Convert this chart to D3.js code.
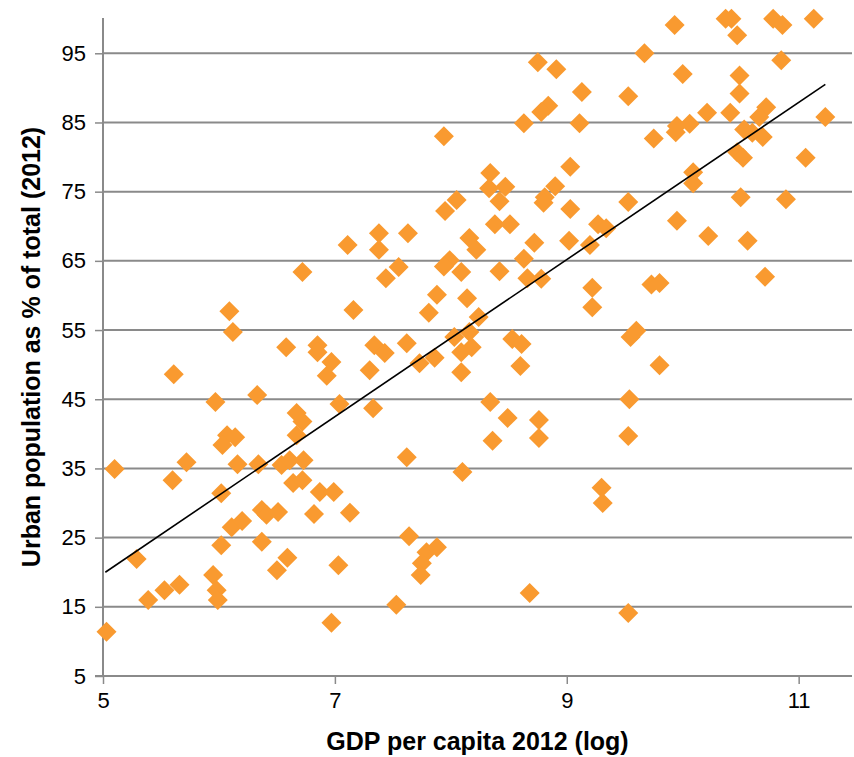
<!DOCTYPE html>
<html>
<head>
<meta charset="utf-8">
<script src="https://cdn.jsdelivr.net/npm/d3@7"></script>
<style>
  body { margin: 0; background: #fff; }
  text { font-family: "Liberation Sans", Arial, sans-serif; }
</style>
</head>
<body>
<svg id="chart" width="854" height="757"></svg>
<script>
// ---------------- data ----------------
var gdpLog = [
  5.03, 5.10, 5.29, 5.39, 5.53, 5.61, 5.60, 5.66, 5.72, 5.95,
  5.98, 5.99, 6.02, 6.02, 6.16, 6.11, 6.20, 6.34, 6.37, 6.37,
  6.41, 6.51, 6.50, 6.59, 6.54, 6.61, 6.64, 6.73, 6.72, 6.87,
  6.99, 6.82, 7.03, 6.97, 7.13, 7.11, 6.72, 6.09, 6.12, 6.58,
  6.85, 6.85, 6.97, 6.93, 6.33, 5.97, 7.04, 6.67, 6.72, 6.67,
  6.07, 6.14, 6.03, 7.16,
  7.38, 7.63, 7.38, 7.55, 7.44, 7.88, 7.81, 8.14, 7.99, 7.94,
  8.09, 8.16, 8.22, 8.42, 8.63, 8.72, 9.02, 9.20, 8.66, 8.78,
  9.22, 9.22, 8.24, 8.03, 8.16, 8.18, 8.09, 7.34, 7.43, 7.62,
  7.73, 7.86, 7.30, 8.09, 8.53, 8.61, 8.60, 7.33, 8.34, 8.49,
  8.76, 8.36, 8.76, 7.62, 8.10, 7.64, 7.79, 7.88, 7.75, 7.74,
  7.53, 8.68, 9.30, 9.31, 9.53,
  10.22, 10.56, 9.73, 9.80, 10.71, 9.55, 9.60, 9.80, 9.54, 9.53,
  9.93, 10.37, 10.42, 10.47, 10.78, 10.86, 11.13, 9.67, 10.85, 10.00,
  10.49, 10.49, 9.53, 10.21, 10.41, 10.72, 10.66, 11.23, 9.95, 10.06,
  9.94, 9.75, 10.53, 10.60, 10.69, 10.47, 10.52, 11.06, 10.09, 10.09,
  9.53, 9.95, 10.50, 10.89, 9.27, 9.34,
  8.75, 8.91, 9.13, 8.84, 8.78, 8.63, 9.11, 7.94, 9.03, 8.34,
  8.33, 8.47, 8.42, 8.90, 8.81, 8.80, 9.03, 7.95, 8.05, 8.38,
  8.51
];
var urbanPct = [
  11.4, 34.9, 21.9, 16.0, 17.4, 48.6, 33.3, 18.2, 35.9, 19.6,
  17.4, 16.0, 23.9, 31.4, 35.6, 26.5, 27.4, 35.6, 24.4, 29.0,
  28.3, 28.7, 20.3, 22.1, 35.5, 36.2, 32.9, 36.2, 33.3, 31.6,
  31.6, 28.4, 21.0, 12.7, 28.6, 67.3, 63.4, 57.7, 54.7, 52.5,
  52.8, 51.8, 50.4, 48.4, 45.6, 44.6, 44.3, 43.0, 41.8, 39.8,
  39.8, 39.5, 38.4, 57.9,
  69.0, 69.0, 66.6, 64.1, 62.5, 60.1, 57.5, 59.6, 65.1, 64.2,
  63.4, 68.3, 66.6, 63.5, 65.3, 67.6, 67.9, 67.3, 62.5, 62.4,
  61.1, 58.3, 56.9, 54.0, 54.7, 52.5, 51.8, 52.8, 51.7, 53.1,
  50.2, 51.0, 49.2, 48.9, 53.7, 53.0, 49.8, 43.7, 44.6, 42.3,
  42.0, 39.0, 39.4, 36.6, 34.5, 25.2, 22.9, 23.6, 21.3, 19.6,
  15.3, 17.0, 32.2, 30.0, 14.1,
  68.6, 67.9, 61.6, 61.8, 62.7, 54.0, 54.9, 49.9, 45.0, 39.7,
  99.1, 100.0, 100.0, 97.6, 100.0, 99.1, 100.0, 95.0, 94.0, 92.0,
  91.8, 89.2, 88.8, 86.4, 86.4, 87.2, 85.8, 85.8, 84.5, 84.8,
  83.6, 82.7, 84.0, 83.5, 82.9, 80.7, 79.9, 79.9, 77.8, 76.2,
  73.5, 70.8, 74.2, 73.9, 70.3, 69.7,
  93.7, 92.7, 89.4, 87.4, 86.5, 84.9, 84.9, 83.0, 78.6, 77.7,
  75.5, 75.7, 73.6, 75.8, 74.2, 73.4, 72.5, 72.2, 73.8, 70.3,
  70.3
];
// linear trendline end points
var trendX = [5.02, 11.23];
var trendY = [20.0, 90.5];

var xTicks = [5, 7, 9, 11];
var yTicks = [5, 15, 25, 35, 45, 55, 65, 75, 85, 95];

// ---------------- layout ----------------
var plotLeft = 103, plotRight = 852, plotTop = 18, plotBottom = 676;
var gridColor = "#8a8a8a";
var svg = d3.select("#chart");

var x = d3.scaleLinear().domain([5, 11.46]).range([plotLeft, plotRight]);
var y = d3.scaleLinear().domain([5, 100.1]).range([plotBottom, plotTop]);

// horizontal gridlines
svg.append("g")
  .selectAll("line")
  .data(yTicks.slice(1))
  .enter().append("line")
  .attr("x1", plotLeft).attr("x2", plotRight)
  .attr("y1", function(d) { return y(d); })
  .attr("y2", function(d) { return y(d); })
  .attr("stroke", gridColor)
  .attr("stroke-width", 2);

// y axis
var yAxis = svg.append("g")
  .attr("transform", "translate(" + plotLeft + ",0)")
  .call(d3.axisLeft(y).tickValues(yTicks).tickFormat(d3.format("d"))
    .tickSize(8).tickPadding(9).tickSizeOuter(0));
yAxis.select(".domain").attr("stroke", gridColor).attr("stroke-width", 2)
  .attr("d", "M0," + plotTop + "V" + plotBottom);
yAxis.selectAll(".tick line").attr("stroke", gridColor).attr("stroke-width", 1.5);
yAxis.selectAll(".tick text").attr("fill", "#000").style("font-size", "22px");

// x axis
var xAxis = svg.append("g")
  .attr("transform", "translate(0," + plotBottom + ")")
  .call(d3.axisBottom(x).tickValues(xTicks).tickFormat(d3.format("d"))
    .tickSize(8).tickPadding(8).tickSizeOuter(0));
xAxis.select(".domain").attr("stroke", gridColor).attr("stroke-width", 2)
  .attr("d", "M" + (plotLeft - 8) + ",0H" + plotRight);
xAxis.selectAll(".tick line").attr("stroke", gridColor).attr("stroke-width", 1.5);
xAxis.selectAll(".tick text").attr("fill", "#000").style("font-size", "22px");

// points
var diamond = d3.symbol().type(d3.symbolSquare).size(200);
svg.append("g")
  .selectAll("path")
  .data(gdpLog)
  .enter().append("path")
  .attr("d", diamond)
  .attr("transform", function(d, i) {
    return "translate(" + x(d) + "," + y(urbanPct[i]) + ") rotate(45)";
  })
  .attr("fill", "#f99a30");

// trendline
var line = d3.line()
  .x(function(d) { return x(d); })
  .y(function(d, i) { return y(trendY[i]); });
svg.append("path")
  .datum(trendX)
  .attr("d", line)
  .attr("fill", "none")
  .attr("stroke", "#000")
  .attr("stroke-width", 1.6);

// axis titles
svg.append("text")
  .attr("x", (plotLeft + plotRight) / 2)
  .attr("y", 750)
  .attr("text-anchor", "middle")
  .style("font-size", "25px")
  .style("font-weight", "bold")
  .text("GDP per capita 2012 (log)");

svg.append("text")
  .attr("transform", "translate(40," + (plotTop + plotBottom) / 2 + ") rotate(-90)")
  .attr("text-anchor", "middle")
  .style("font-size", "25px")
  .style("font-weight", "bold")
  .text("Urban population as % of total (2012)");
</script>
</body>
</html>
